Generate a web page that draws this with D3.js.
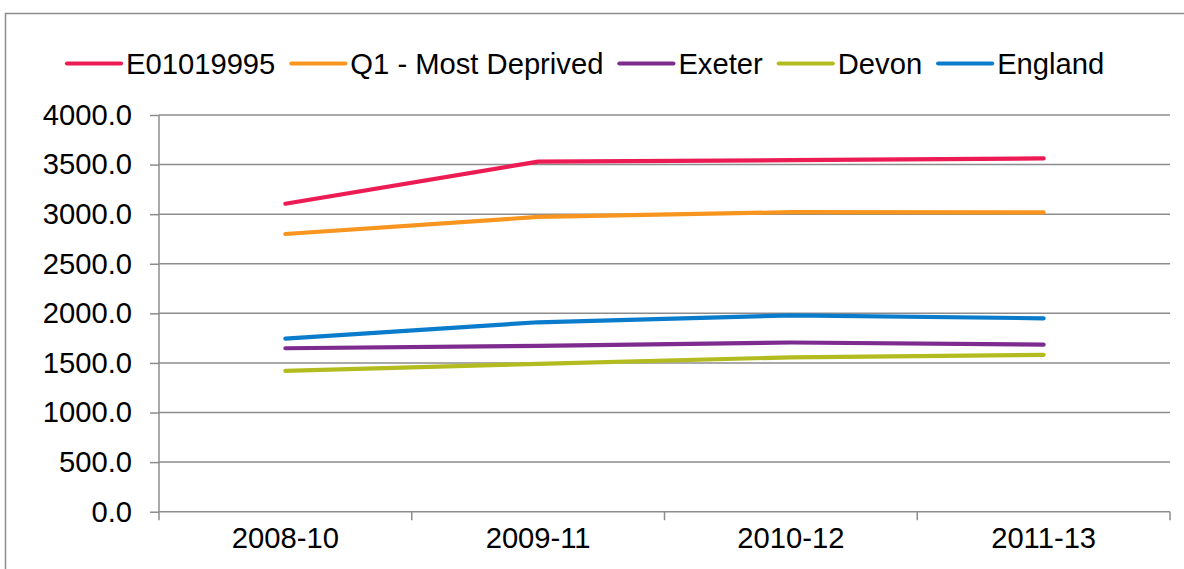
<!DOCTYPE html>
<html><head><meta charset="utf-8">
<script src="https://cdn.jsdelivr.net/npm/d3@7"></script>
<style>html,body{margin:0;padding:0;background:#fff;overflow:hidden}svg{display:block}text{font-family:"Liberation Sans",Arial,sans-serif;fill:#000}</style>
</head><body><svg id="c" width="1184" height="569"></svg>
<script>
const categories = ["2008-10","2009-11","2010-12","2011-13"];
const seriesNames = ["E01019995","Q1 - Most Deprived","Exeter","Devon","England"];
const seriesColors = ["#EC1B54","#F7951F","#7E2B8F","#B3BC1F","#0A7CCB"];
const e01019995 = [3105, 3530, 3545, 3562];
const q1MostDeprived = [2800, 2972, 3020, 3018];
const exeter = [1648, 1672, 1706, 1684];
const devon = [1420, 1490, 1557, 1582];
const england = [1745, 1910, 1980, 1950];
const yTicks = [0,500,1000,1500,2000,2500,3000,3500,4000];

const seriesValues = [e01019995, q1MostDeprived, exeter, devon, england];
const svg = d3.select("#c");
const grey = "#8c8c8c";
const fs = 29.2;

svg.append("rect").attr("x",5.5).attr("y",13.5).attr("width",1200).attr("height",600)
  .attr("fill","none").attr("stroke",grey).attr("stroke-width",1.5);

const L=159, R=1170, T=115, B=511.7;
const x = d3.scaleBand().domain(categories).range([L,R]);
const y = d3.scaleLinear().domain([0,4000]).range([B,T]);

// gridlines
svg.append("g").selectAll("line").data(yTicks).join("line")
  .attr("x1",L).attr("x2",R).attr("y1",d=>y(d)).attr("y2",d=>y(d))
  .attr("stroke",grey).attr("stroke-width",1.5);

// y axis
const ya = svg.append("g").attr("transform",`translate(${L},0)`)
  .call(d3.axisLeft(y).tickValues(yTicks).tickFormat(d3.format(".1f")).tickSize(9).tickPadding(18));
ya.select(".domain").attr("stroke",grey).attr("stroke-width",1.5).attr("d",`M0,${T}V${B}`);
ya.selectAll(".tick line").attr("stroke",grey).attr("stroke-width",1.5);
ya.selectAll(".tick text").attr("font-size",fs).attr("font-family","Liberation Sans, Arial").attr("fill","#000");

// x axis
const xa = svg.append("g").attr("transform",`translate(0,${B})`)
  .call(d3.axisBottom(x).tickSize(0).tickPadding(16));
xa.select(".domain").remove();
xa.selectAll(".tick text").attr("font-size",fs).attr("font-family","Liberation Sans, Arial").attr("fill","#000").attr("dy","0.71em");
const bounds = categories.map(c=>x(c)).concat([R]);
svg.append("g").selectAll("line").data(bounds).join("line")
  .attr("x1",d=>d).attr("x2",d=>d).attr("y1",B).attr("y2",B+8.5)
  .attr("stroke",grey).attr("stroke-width",1.5);

// lines
const line = d3.line().x((d,i)=>x(categories[i])+x.bandwidth()/2).y(d=>y(d));
svg.append("g").selectAll("path").data(seriesValues).join("path")
  .attr("d",d=>line(d)).attr("fill","none")
  .attr("stroke",(d,i)=>seriesColors[i]).attr("stroke-width",4.2)
  .attr("stroke-linecap","round").attr("stroke-linejoin","round");

// legend
const lg = svg.append("g");
let cx = 67; const ly = 63.5;
seriesNames.forEach((n,i)=>{
  lg.append("line").attr("x1",cx).attr("x2",cx+54).attr("y1",ly).attr("y2",ly)
    .attr("stroke",seriesColors[i]).attr("stroke-width",4.2).attr("stroke-linecap","round");
  const t = lg.append("text").attr("x",cx+59).attr("y",73.5).attr("font-size",fs).text(n);
  cx = cx+59+t.node().getComputedTextLength()+16;
});
</script></body></html>
